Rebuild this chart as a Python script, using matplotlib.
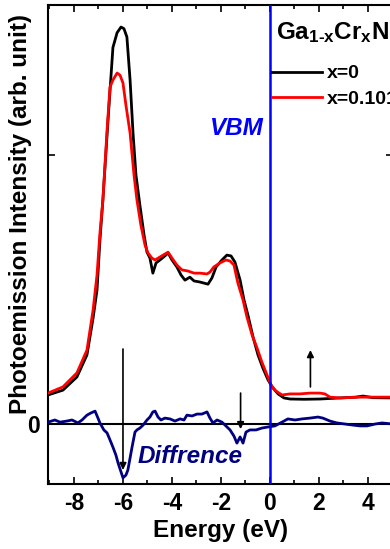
import matplotlib
matplotlib.use("Agg")
import matplotlib.pyplot as plt
from matplotlib.ticker import MultipleLocator, FixedLocator, FixedFormatter

plt.rcParams['font.family'] = ['Liberation Sans', 'DejaVu Sans']
plt.rcParams['font.weight'] = 'bold'
plt.rcParams['mathtext.fontset'] = 'custom'
plt.rcParams['mathtext.rm'] = 'Liberation Sans:bold'
plt.rcParams['mathtext.bf'] = 'Liberation Sans:bold'
plt.rcParams['mathtext.it'] = 'Liberation Sans:bold:italic'

# ---- data (Energy in eV, intensity in arb. units) ----
e_x0 = [-9.06, -8.45, -7.88, -7.47, -7.22, -7.06, -6.94, -6.82, -6.61, -6.41, -6.24, -6.08, -5.96,
        -5.84, -5.71, -5.59, -5.47, -5.31, -5.14, -5.02, -4.90, -4.78, -4.65, -4.49, -4.29, -4.16,
        -4.00, -3.80, -3.63, -3.47, -3.27, -3.10, -2.86, -2.53, -2.37, -2.20, -1.96, -1.76, -1.59,
        -1.43, -1.22, -1.06, -0.90, -0.69, -0.49, -0.29, -0.08, 0.12, 0.33, 0.57, 0.82, 1.40, 2.04,
        2.86, 3.50, 3.80, 4.20, 5.00]
i_x0 = [0.108, 0.126, 0.175, 0.257, 0.394, 0.498, 0.684, 0.833, 1.130, 1.400, 1.455, 1.476, 1.470,
        1.439, 1.279, 1.082, 0.926, 0.814, 0.703, 0.639, 0.617, 0.561, 0.599, 0.610, 0.625, 0.636,
        0.610, 0.584, 0.554, 0.535, 0.546, 0.532, 0.528, 0.520, 0.543, 0.584, 0.610, 0.628, 0.625,
        0.602, 0.535, 0.461, 0.405, 0.323, 0.257, 0.208, 0.164, 0.134, 0.112, 0.097, 0.093, 0.092,
        0.093, 0.097, 0.100, 0.104, 0.098, 0.097]

e_x0101 = [-9.06, -8.45, -7.88, -7.47, -7.22, -7.06, -6.94, -6.82, -6.65, -6.53, -6.41, -6.24, -6.12,
           -6.00, -5.88, -5.71, -5.55, -5.43, -5.27, -5.10, -4.98, -4.82, -4.69, -4.49, -4.29, -4.16,
           -4.00, -3.80, -3.59, -3.35, -3.10, -2.86, -2.57, -2.45, -2.29, -2.04, -1.80, -1.63, -1.47,
           -1.31, -1.10, -0.94, -0.73, -0.53, -0.33, -0.12, 0.04, 0.24, 0.49, 0.82, 1.22, 1.63, 2.04,
           2.24, 2.45, 2.86, 3.67, 5.00]
i_x0101 = [0.115, 0.138, 0.190, 0.275, 0.424, 0.554, 0.710, 0.833, 1.093, 1.253, 1.279, 1.305, 1.297,
           1.268, 1.186, 1.082, 0.926, 0.833, 0.740, 0.665, 0.636, 0.617, 0.610, 0.621, 0.632, 0.639,
           0.617, 0.591, 0.573, 0.569, 0.561, 0.561, 0.558, 0.565, 0.584, 0.599, 0.610, 0.606, 0.591,
           0.524, 0.461, 0.398, 0.331, 0.283, 0.230, 0.182, 0.145, 0.123, 0.108, 0.112, 0.112, 0.115,
           0.115, 0.112, 0.100, 0.097, 0.100, 0.100]

e_diff = [-9.06, -8.78, -8.57, -8.29, -8.08, -7.84, -7.67, -7.47, -7.31, -7.14, -7.02, -6.94, -6.78,
          -6.65, -6.53, -6.41, -6.29, -6.20, -6.08, -6.00, -5.88, -5.80, -5.71, -5.63, -5.51, -5.43,
          -5.31, -5.18, -5.02, -4.90, -4.78, -4.69, -4.57, -4.45, -4.29, -4.08, -3.88, -3.67, -3.51,
          -3.39, -3.18, -2.98, -2.78, -2.57, -2.45, -2.33, -2.16, -1.96, -1.80, -1.63, -1.47, -1.35,
          -1.22, -1.10, -0.98, -0.82, -0.57, -0.33, -0.08, 0.20, 0.49, 0.73, 1.02, 1.31, 1.63, 1.96,
          2.16, 2.45, 2.73, 3.06, 3.39, 3.67, 3.96, 4.29, 4.57, 5.00]
i_diff = [0.007, 0.015, 0.007, 0.011, 0.015, 0.004, 0.015, 0.033, 0.041, 0.048, 0.022, 0.004, -0.022,
          -0.033, -0.059, -0.086, -0.115, -0.145, -0.178, -0.200, -0.190, -0.171, -0.126, -0.086, -0.030, -0.022,
          -0.015, -0.004, 0.015, 0.026, 0.045, 0.048, 0.026, 0.015, 0.022, 0.019, 0.011, 0.019, 0.015,
          0.033, 0.030, 0.037, 0.037, 0.045, 0.022, 0.004, 0.015, 0.007, -0.007, -0.022, -0.045, -0.071,
          -0.048, -0.071, -0.030, -0.022, -0.022, -0.015, -0.011, -0.007, 0.007, 0.019, 0.015, 0.019, 0.022, 0.026,
          0.022, 0.011, 0.004, 0.000, -0.004, -0.007, -0.007, 0.000, 0.004, 0.000]

# arrows: (energy, start intensity, end intensity)
arrows = [(-6.0, 0.279, -0.171), (-1.2, 0.115, -0.019), (1.65, 0.138, 0.275)]

xticks = [-8, -6, -4, -2, 0, 2, 4]

fig = plt.figure(figsize=(3.90, 5.49), dpi=100)
ax = fig.add_axes([48/390, 65/549, (392.5-48)/390, 479/549])

ax.axhline(0, color='black', lw=1.5, zorder=1)
ax.axvline(0, color='#0000ff', lw=1.8, zorder=4)
ax.plot(e_diff, i_diff, color='#000080', lw=2.0, zorder=3)
l0, = ax.plot(e_x0, i_x0, color='black', lw=2.0, zorder=2, label='x=0')
l1, = ax.plot(e_x0101, i_x0101, color='#ff0000', lw=2.0, zorder=3, label='x=0.101')

for e, y0, y1 in arrows:
    ax.annotate('', xy=(e, y1), xytext=(e, y0),
                arrowprops=dict(arrowstyle='-|>', color='black', lw=1.2,
                                mutation_scale=10, shrinkA=0, shrinkB=0))

ax.text(-0.25, 1.10, 'VBM', color='#0000ff', fontsize=17.5, fontweight='bold',
        fontstyle='italic', ha='right', va='center')
ax.text(-5.40, -0.119, 'Diffrence', color='#000080', fontsize=17.5, fontweight='bold',
        fontstyle='italic', ha='left', va='center')
ax.text(0.25, 1.457, r'Ga$_{\mathbf{1\text{-}x}}$Cr$_{\mathbf{x}}$N', fontsize=17.5,
        fontweight='bold', ha='left', va='center')

leg = ax.legend(handles=[l0, l1], loc='upper left', bbox_to_anchor=(0.65, 0.875),
                frameon=False, fontsize=14, handlelength=2.6, handletextpad=0.2,
                labelspacing=0.4, borderaxespad=0, borderpad=0)
for t in leg.get_texts():
    t.set_fontweight('bold')

ax.set_xlim(-9.06, 5.0)
ax.set_ylim(-0.223, 1.558)
ax.xaxis.set_major_locator(FixedLocator(xticks))
ax.xaxis.set_major_formatter(FixedFormatter([str(v) for v in xticks]))
ax.xaxis.set_minor_locator(MultipleLocator(1))
ax.yaxis.set_major_locator(FixedLocator([0, 1.0]))
ax.yaxis.set_major_formatter(FixedFormatter(['0', '']))
ax.tick_params(which='both', direction='in', top=True, right=True, width=1.2)
ax.tick_params(which='major', length=5, labelsize=16.5, pad=6)
ax.tick_params(which='minor', length=3)
for s in ax.spines.values():
    s.set_linewidth(1.5)

ax.set_xlabel('Energy (eV)', fontsize=17.5, fontweight='bold', labelpad=3)
ax.set_ylabel('Photoemission Intensity (arb. unit)', fontsize=17.5, fontweight='bold')
ax.yaxis.set_label_coords(-0.045, 0.564)

fig.savefig('out.png', dpi=100)
